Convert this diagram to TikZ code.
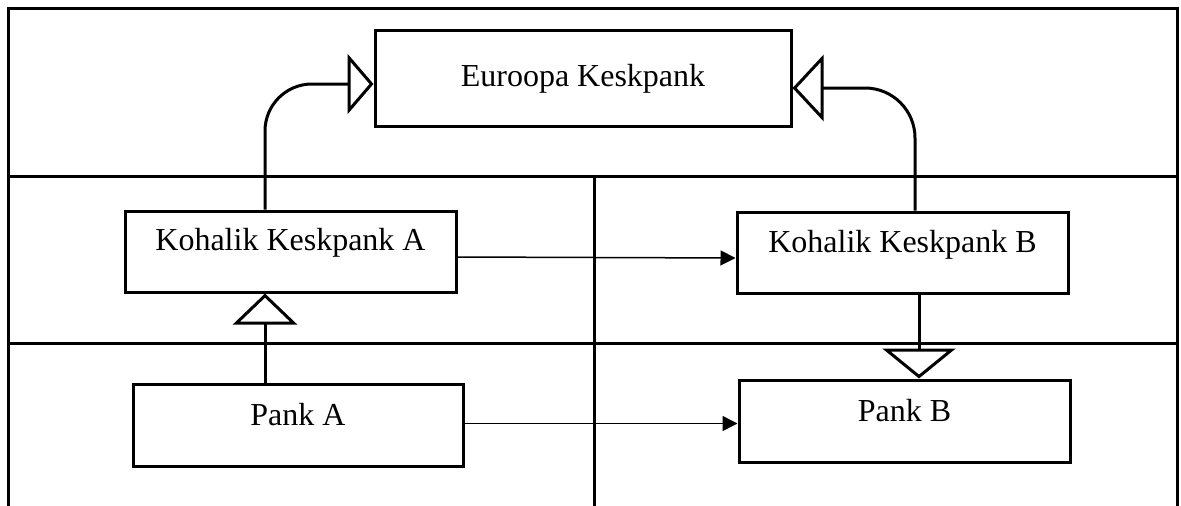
\documentclass[tikz,border=0pt]{standalone}
\usepackage{fontspec}
\setmainfont{Liberation Serif}
\usetikzlibrary{arrows.meta}
\begin{document}
\begin{tikzpicture}[x=1pt,y=-1pt,
  box/.style={draw,line width=3pt,inner sep=0pt,anchor=base,
    font=\fontsize{32}{38}\selectfont},
  grid/.style={line width=3pt},
  gen/.style={line width=3pt,-{Triangle[open,length=#1]}},
  msg/.style={line width=1.5pt,-{Triangle[length=15pt,width=15pt]}}
]
\useasboundingbox (0,0) rectangle (1181,506);
% frame
\coordinate (tl) at (8,8);
\coordinate (tr) at (1177,8);
\coordinate (bl) at (8,506);
\coordinate (br) at (1177,506);
\coordinate (m1l) at (8,176);
\coordinate (m1r) at (1177,176);
\coordinate (m2l) at (8,343);
\coordinate (m2r) at (1177,343);
\coordinate (vt) at (594,176);
\coordinate (vb) at (594,506);
\draw[grid] (bl) -- (tl) -- (tr) -- (br);
\draw[grid] (m1l) -- (m1r);
\draw[grid] (m2l) -- (m2r);
\draw[grid] (vt) -- (vb);
% boxes
\node[box,minimum width=416pt,text height=56pt,text depth=40pt] (ECB) at (583,86) {Euroopa Keskpank};
\node[box,minimum width=331pt,text height=39pt,text depth=42pt] (KA) at (290.5,250) {Kohalik Keskpank A};
\node[box,minimum width=331pt,text height=40pt,text depth=41pt] (KB) at (902.5,252) {Kohalik Keskpank B};
\node[box,minimum width=330pt,text height=41pt,text depth=41pt] (PA) at (298,425) {Pank A};
\node[box,minimum width=331pt,text height=41pt,text depth=41pt] (PB) at (904.5,421) {Pank B};
% generalisation connectors
\draw[gen={26pt,width=60pt},rounded corners=47pt]
  ([xshift=-25.5pt]KA.north) |- ([yshift=-6pt]ECB.west);
\draw[gen={31pt,width=66pt},rounded corners=50pt]
  ([xshift=12.5pt]KB.north) |- ([yshift=-10pt]ECB.east);
\draw[gen={31pt,width=64pt}]
  ([xshift=-33pt]PA.north) -- ([xshift=-25.5pt]KA.south);
\draw[gen={30pt,width=73pt}]
  ([xshift=16.5pt]KB.south) -- ([xshift=14.5pt]PB.north);
% messages
\draw[msg] ([yshift=-5.5pt]KA.east) -- ([yshift=-5.5pt]KB.west);
\draw[msg] ([yshift=1.5pt]PA.east) -- ([yshift=-2.5pt]PB.west);
\end{tikzpicture}
\end{document}
